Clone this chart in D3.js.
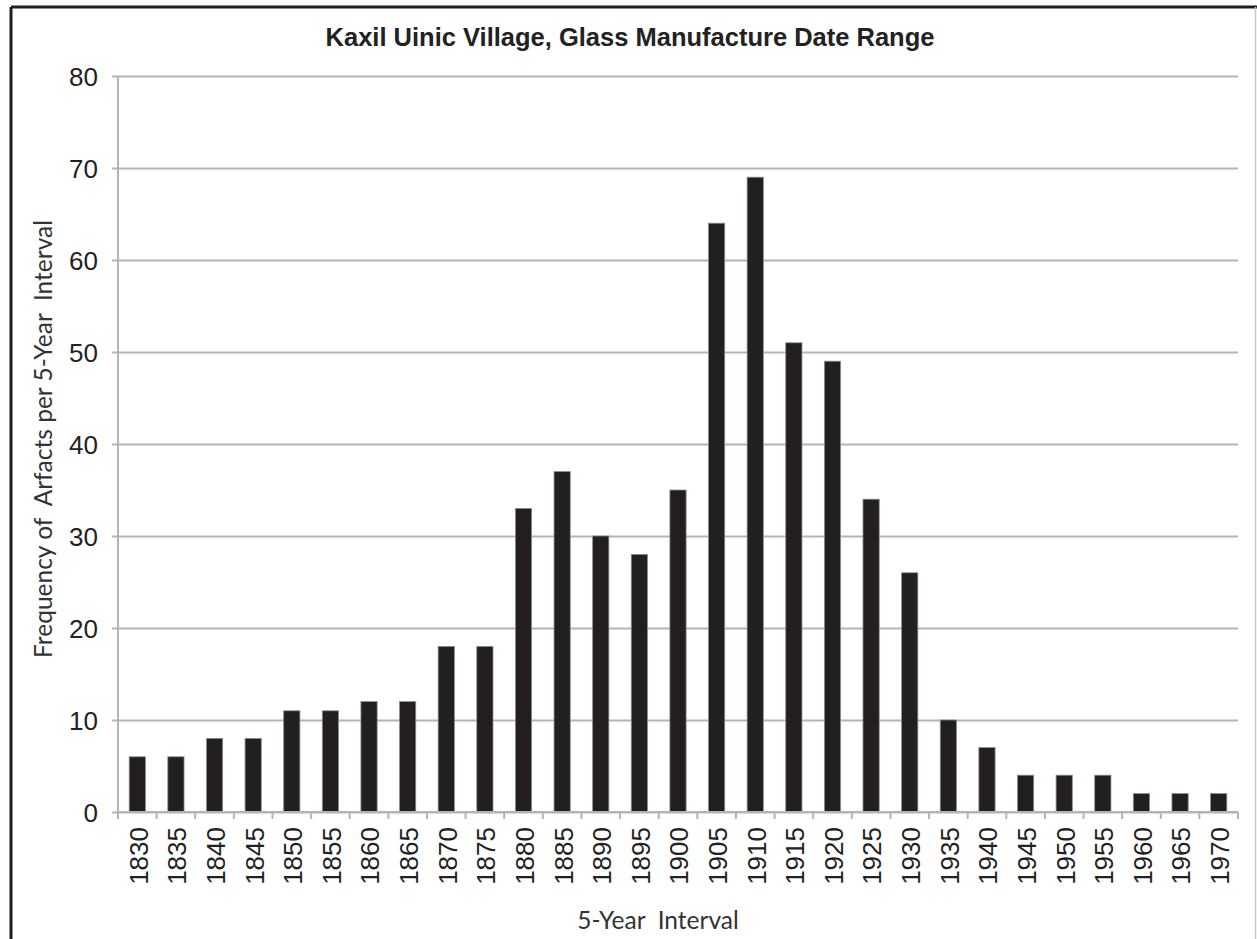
<!DOCTYPE html>
<html>
<head>
<meta charset="utf-8">
<script src="https://cdn.jsdelivr.net/npm/d3@7"></script>
<style>
  html, body { margin: 0; padding: 0; background: #fff; }
  svg { display: block; }
</style>
</head>
<body>
<svg id="chart" width="1257" height="939"></svg>
<script>
// 5-year intervals and artifact counts per interval
const intervals = ["1830","1835","1840","1845","1850","1855","1860","1865","1870","1875",
  "1880","1885","1890","1895","1900","1905","1910","1915","1920","1925",
  "1930","1935","1940","1945","1950","1955","1960","1965","1970"];
const counts = [6,6,8,8,11,11,12,12,18,18,33,37,30,28,35,64,69,51,49,34,26,10,7,4,4,4,2,2,2];
const yTicks = [0,10,20,30,40,50,60,70,80];

const titleText = "Kaxil Uinic Village, Glass Manufacture Date Range";
const xTitle = "5-Year  Interval";
const yTitle = "Frequency of  Arfacts per 5-Year  Interval";

const svg = d3.select("#chart");
const W = 1257, H = 939;
const m = { left: 118, right: 1238, top: 76, bottom: 812 };
const sans = "'Liberation Sans', Arial, sans-serif";
const humanist = "Lato, 'Open Sans', sans-serif";

// outer frame
svg.append("line").attr("x1", 11).attr("x2", 11).attr("y1", 7).attr("y2", H)
  .attr("stroke", "#1e1e1e").attr("stroke-width", 3);
svg.append("line").attr("x1", 11).attr("x2", W).attr("y1", 7).attr("y2", 7)
  .attr("stroke", "#1e1e1e").attr("stroke-width", 3);
svg.append("line").attr("x1", W - 1.5).attr("x2", W - 1.5).attr("y1", 7).attr("y2", H)
  .attr("stroke", "#c8c8c8").attr("stroke-width", 1.5);

const x = d3.scaleBand().domain(intervals).range([m.left, m.right]).paddingInner(0.58).paddingOuter(0.29);
const xEdges = d3.scaleLinear().domain([0, intervals.length]).range([m.left, m.right]);
const y = d3.scaleLinear().domain([0, 80]).range([m.bottom, m.top]);

const gridColor = "#b4b4b4";

// horizontal gridlines, extending left of the axis as tick marks
const yAxis = d3.axisLeft(y).tickValues(yTicks).tickSize(0).tickSizeOuter(0);
const gy = svg.append("g").attr("transform", `translate(${m.left - 6},0)`).call(yAxis);
gy.select(".domain").remove();
gy.selectAll(".tick line").attr("stroke", gridColor).attr("stroke-width", 2)
  .attr("x1", 0).attr("x2", m.right - m.left + 6);
gy.selectAll(".tick text")
  .attr("font-family", sans)
  .attr("font-size", 26).attr("fill", "#222").attr("x", -14).attr("dy", "0.36em");

// y axis line
svg.append("line").attr("x1", m.left).attr("x2", m.left).attr("y1", m.top).attr("y2", m.bottom)
  .attr("stroke", gridColor).attr("stroke-width", 2);

// bars
svg.append("g").selectAll("rect").data(intervals).join("rect")
  .attr("x", (d) => x(d))
  .attr("width", x.bandwidth())
  .attr("y", (d, i) => y(counts[i]))
  .attr("height", (d, i) => y(0) - y(counts[i]))
  .attr("fill", "#231f20")
  .attr("stroke", "#8c8c8c")
  .attr("stroke-width", 0.8);

// x axis line and boundary ticks
svg.append("line").attr("x1", m.left).attr("x2", m.right).attr("y1", m.bottom).attr("y2", m.bottom)
  .attr("stroke", gridColor).attr("stroke-width", 2);
svg.append("g").selectAll("line").data(d3.range(intervals.length + 1)).join("line")
  .attr("x1", (i) => xEdges(i)).attr("x2", (i) => xEdges(i))
  .attr("y1", m.bottom).attr("y2", m.bottom + 7)
  .attr("stroke", gridColor).attr("stroke-width", 2);

// rotated interval labels
svg.append("g").selectAll("text").data(intervals).join("text")
  .attr("transform", (d) => `translate(${x(d) + x.bandwidth() / 2 + 1},827) rotate(-90)`)
  .attr("text-anchor", "end")
  .attr("dy", "0.36em")
  .attr("font-family", sans)
  .attr("font-size", 26).attr("fill", "#222")
  .text((d) => d);

// title
svg.append("text").attr("x", 630).attr("y", 46).attr("text-anchor", "middle")
  .attr("font-family", sans)
  .attr("font-weight", "bold").attr("font-size", 25.5).attr("fill", "#222")
  .text(titleText);

// axis titles
svg.append("text").attr("x", 658).attr("y", 929).attr("text-anchor", "middle")
  .attr("font-family", humanist)
  .attr("font-size", 24.5).attr("fill", "#333")
  .style("white-space", "pre")
  .text(xTitle);

svg.append("text").attr("transform", "translate(52,439) rotate(-90)").attr("text-anchor", "middle")
  .attr("font-family", humanist)
  .attr("font-size", 24.5).attr("fill", "#333")
  .style("white-space", "pre")
  .text(yTitle);
</script>
</body>
</html>
